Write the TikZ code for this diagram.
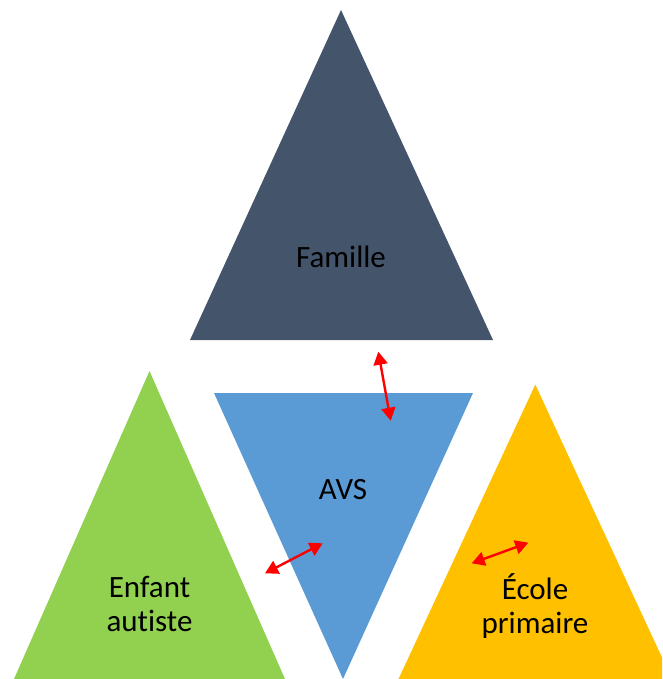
\documentclass[tikz,border=0pt]{standalone}
\usepackage{fontspec}
\setmainfont{Carlito}[Ligatures=CommonOff]
\usetikzlibrary{arrows.meta}
\definecolor{famc}{HTML}{44546A}
\definecolor{avsc}{HTML}{5B9BD5}
\definecolor{enfc}{HTML}{92D050}
\definecolor{ecoc}{HTML}{FFC000}
\definecolor{arrc}{HTML}{FF0000}
\begin{document}
\begin{tikzpicture}[x=1pt,y=-1pt,
  lbl/.style={inner sep=0pt,align=center,font=\fontsize{31}{34}\selectfont,text=black},
  link/.style={arrc,line width=2.4pt,{Triangle[length=13pt,width=14pt]}-{Triangle[length=13pt,width=14pt]}}]
\useasboundingbox (0,0) rectangle (662,679);
\clip (0,0) rectangle (662,679);
% triangles
\fill[famc] (341,10) -- (493,340) -- (190,340) -- cycle;
\fill[avsc] (214,393) -- (473,393) -- (343,679) -- cycle;
\fill[enfc] (149.5,371) -- (285,679) -- (14,679) -- cycle;
\fill[ecoc] (535.3,384.6) -- (672,679) -- (398.5,679) -- cycle;
% labels
\node[lbl,anchor=base] (famille) at (341,267.6) {Famille};
\node[lbl,anchor=base] (avs) at (343,499) {AVS};
\node[lbl] (enfant) at (149.5,604) {Enfant\\autiste};
\node[lbl] (ecole) at (535,606) {École\\primaire};
% arrows
\coordinate (a1) at (378.3,351.7);
\coordinate (b1) at (390.7,420.7);
\coordinate (a2) at (265,573.3);
\coordinate (b2) at (322.7,543.3);
\coordinate (a3) at (471.7,563.3);
\coordinate (b3) at (528.3,542.7);
\draw[link] (a1) -- (b1);
\draw[link] (a2) -- (b2);
\draw[link] (a3) -- (b3);
\end{tikzpicture}
\end{document}
